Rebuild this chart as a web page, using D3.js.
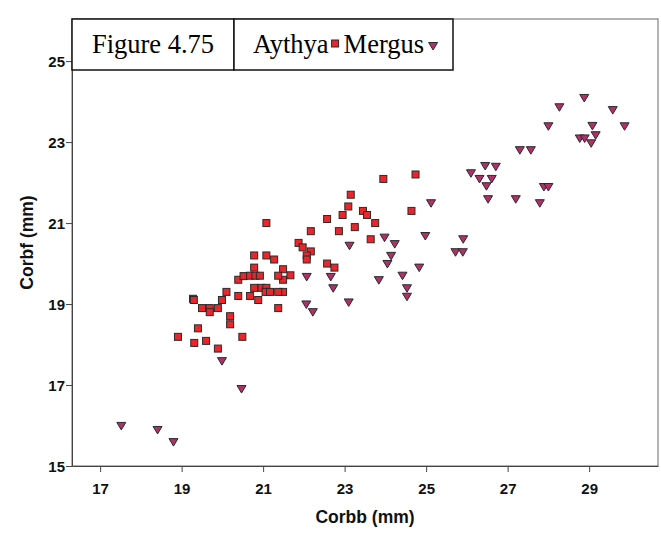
<!DOCTYPE html>
<html><head><meta charset="utf-8">
<script src="https://cdn.jsdelivr.net/npm/d3@7"></script>
<style>body{margin:0;background:#fff}svg{display:block}</style>
</head><body><svg id="c" width="661" height="539"></svg>
<script>
const xTicks = [17, 19, 21, 23, 25, 27, 29];
const yTicks = [15, 17, 19, 21, 23, 25];
const xTitle = "Corbb (mm)";
const yTitle = "Corbf (mm)";
const figureLabel = "Figure 4.75";
const seriesNames = ["Aythya", "Mergus"];

const aythyaX = [24.74,24.64,23.95,23.15,23.09,22.95,23.45,23.55,22.57,23.75,22.17,22.86,23.25,23.64,21.87,21.97,22.17,22.07,22.07,22.57,22.75,21.49,21.67,21.49,21.49,
  21.08,20.78,21.08,21.27,20.78,
  20.39,20.52,20.68,20.81,20.92,21.37,20.78,20.96,21.08,21.06,21.17,21.37,20.10,20.39,20.68,20.88,19.28,19.30,19.99,19.50,19.69,19.69,19.89,21.37,20.19,20.19,19.40,18.91,20.49,19.31,19.60,19.89];
const aythyaY = [22.20,21.30,22.09,21.70,21.41,21.20,21.30,21.20,21.10,21.00,20.80,20.80,20.90,20.60,20.51,20.40,20.30,20.20,20.10,20.00,19.90,19.86,19.71,19.60,19.30,
  21.00,20.20,20.20,20.10,19.90,
  19.60,19.69,19.70,19.70,19.70,19.70,19.40,19.40,19.40,19.30,19.30,19.30,19.30,19.20,19.20,19.10,19.13,19.10,19.10,18.90,18.90,18.80,18.90,18.90,18.70,18.50,18.40,18.19,18.19,18.04,18.09,17.90];

const mergusX = [17.52,18.41,18.80,20.47,19.99,
  22.07,22.66,23.84,24.42,22.72,24.53,24.53,23.10,22.06,22.22,
  25.12,23.98,24.23,24.98,23.12,24.14,24.05,24.83,
  25.91,25.72,25.90,
  28.88,28.27,29.58,28.00,29.08,29.87,29.16,28.77,28.89,29.05,27.30,27.57,26.45,26.71,26.10,26.31,26.61,26.48,27.89,28.00,26.52,27.20,27.79];
const mergusY = [15.99,15.89,15.59,16.90,17.59,
  19.67,19.67,19.59,19.70,19.39,19.39,19.18,19.04,18.99,18.80,
  21.49,20.64,20.48,20.68,20.44,20.19,19.99,19.90,
  20.60,20.28,20.28,
  24.09,23.86,23.79,23.39,23.40,23.39,23.17,23.09,23.09,22.97,22.80,22.80,22.41,22.39,22.23,22.09,22.09,21.91,21.89,21.89,21.59,21.59,21.49];

const aythya = aythyaX.map((v, i) => ({x: v, y: aythyaY[i]}));
const mergus = mergusX.map((v, i) => ({x: v, y: mergusY[i]}));

const svg = d3.select("#c");
const L = 72, R = 658, T = 19, B = 466;
const x = d3.scaleLinear().domain([16.31, 30.69]).range([L, R]);
const y = d3.scaleLinear().domain([15, 26.04]).range([B, T]);

const sqFill = "#e8262b", triFill = "#b0306b", mStroke = "#2a2a2a";

// frame
svg.append("rect").attr("x", L).attr("y", T).attr("width", R - L).attr("height", B - T)
  .attr("fill", "none").attr("stroke", "#666").attr("stroke-width", 1);

// axes
const xa = svg.append("g").attr("transform", `translate(0,${B})`)
  .call(d3.axisBottom(x).tickValues(xTicks).tickSize(6).tickSizeOuter(0).tickFormat(d3.format("d")));
const ya = svg.append("g").attr("transform", `translate(${L},0)`)
  .call(d3.axisLeft(y).tickValues(yTicks).tickSize(6).tickSizeOuter(0).tickFormat(d3.format("d")));
[xa, ya].forEach(g => {
  g.select(".domain").attr("stroke", "#444");
  g.selectAll(".tick line").attr("stroke", "#444");
  g.selectAll(".tick text").attr("fill", "#111").attr("font-family", "Liberation Sans, Arial, sans-serif")
    .attr("font-weight", "bold").attr("font-size", 15);
});
xa.selectAll(".tick text").attr("dy", "1.25em");
ya.selectAll(".tick text").attr("dy", "0.36em").attr("x", -7);

// titles
svg.append("text").attr("x", (L + R) / 2).attr("y", 523).attr("text-anchor", "middle")
  .attr("font-family", "Liberation Sans, Arial, sans-serif").attr("font-weight", "bold").attr("font-size", 17.5)
  .attr("fill", "#111").text(xTitle);
svg.append("text").attr("transform", `translate(33,${(T + B) / 2}) rotate(-90)`).attr("text-anchor", "middle")
  .attr("font-family", "Liberation Sans, Arial, sans-serif").attr("font-weight", "bold").attr("font-size", 17.5)
  .attr("fill", "#111").text(yTitle);

// points
const tri = "M-4.5,-3.5L4.5,-3.5L0,4Z";
svg.append("g").selectAll("path").data(mergus).join("path")
  .attr("d", tri).attr("transform", d => `translate(${x(d.x)},${y(d.y)})`)
  .attr("fill", triFill).attr("stroke", mStroke).attr("stroke-width", 1);
svg.append("g").selectAll("rect").data(aythya).join("rect")
  .attr("x", d => x(d.x) - 3.5).attr("y", d => y(d.y) - 3.5).attr("width", 7).attr("height", 7)
  .attr("fill", sqFill).attr("stroke", mStroke).attr("stroke-width", 1);

// legend boxes
const lg = svg.append("g");
lg.append("rect").attr("x", L).attr("y", T).attr("width", 162).attr("height", 51)
  .attr("fill", "#fff").attr("stroke", "#111").attr("stroke-width", 1.5);
lg.append("rect").attr("x", L + 162).attr("y", T).attr("width", 219).attr("height", 51)
  .attr("fill", "#fff").attr("stroke", "#111").attr("stroke-width", 1.5);
const serif = "Liberation Serif, Times New Roman, serif";
lg.append("text").attr("x", L + 81).attr("y", 53).attr("text-anchor", "middle")
  .attr("font-family", serif).attr("font-size", 26.5).attr("fill", "#000").text(figureLabel);
const t1 = lg.append("text").attr("x", 253).attr("y", 53)
  .attr("font-family", serif).attr("font-size", 26.5).attr("fill", "#000").text(seriesNames[0]);
const w1 = t1.node().getComputedTextLength();
lg.append("rect").attr("x", 253 + w1 + 3).attr("y", 40).attr("width", 7).attr("height", 7)
  .attr("fill", sqFill).attr("stroke", mStroke).attr("stroke-width", 1);
const t2 = lg.append("text").attr("x", 253 + w1 + 15).attr("y", 53)
  .attr("font-family", serif).attr("font-size", 26.5).attr("fill", "#000").text(seriesNames[1]);
const w2 = t2.node().getComputedTextLength();
lg.append("path").attr("d", tri).attr("transform", `translate(${253 + w1 + 15 + w2 + 9},46)`)
  .attr("fill", triFill).attr("stroke", mStroke).attr("stroke-width", 1);
</script>
</body></html>
